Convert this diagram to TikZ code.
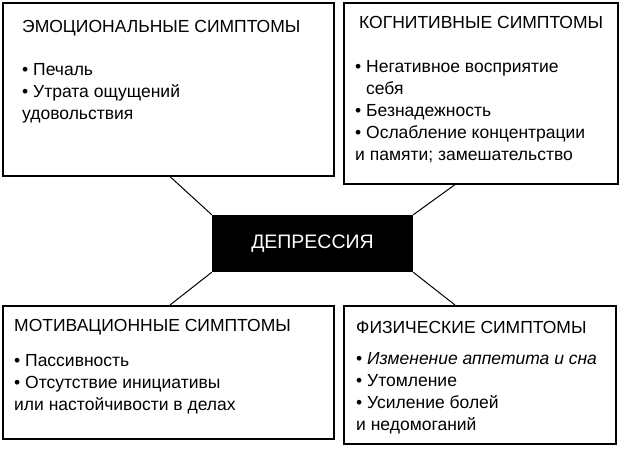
\documentclass[tikz,border=0pt]{standalone}
\usepackage{fontspec}
\setmainfont{Liberation Sans}
\usetikzlibrary{positioning}

\tikzset{
    symbox/.style={draw, line width=1.6pt, anchor=north west, inner sep=0pt},
    title/.style={anchor=west, inner sep=0pt, font=\fontsize{17.5}{21}\selectfont},
    items/.style={anchor=north west, align=left, inner sep=0pt,
        font=\fontsize{17.5}{22}\selectfont},
    centre/.style={fill=black, text=white, minimum width=201pt, minimum height=57pt,
        font=\fontsize{19.5}{22}\selectfont}
}

\begin{document}
\begin{tikzpicture}[x=1pt, y=-1pt]
\useasboundingbox (0,0) rectangle (620,448);
% boxes
\node[symbox, minimum width=331pt, minimum height=173pt] (emo) at (2,2) {};
\node[symbox, minimum width=274pt, minimum height=181pt] (cog) at (343,2) {};
\node[symbox, minimum width=331pt, minimum height=133pt] (mot) at (2,305) {};
\node[symbox, minimum width=272pt, minimum height=138pt] (phy) at (343,305) {};
\node[centre] (dep) at (312.5,243.5) {ДЕПРЕССИЯ};
% headings
\node[title] (emot) at (22,28) {ЭМОЦИОНАЛЬНЫЕ СИМПТОМЫ};
\node[title] (cogt) at (359,22) {КОГНИТИВНЫЕ СИМПТОМЫ};
\node[title] (mott) at (14,327) {МОТИВАЦИОННЫЕ СИМПТОМЫ};
\node[title] (phyt) at (356,327) {ФИЗИЧЕСКИЕ СИМПТОМЫ};
% lists
\node[items] (emol) at (22,63)
    {• Печаль\\• Утрата ощущений\\удовольствия};
\node[items] (cogl) at (355,60)
    {• Негативное восприятие\\\phantom{• }себя\\• Безнадежность\\• Ослабление концентрации\\и памяти; замешательство};
\node[items] (motl) at (14,354)
    {• Пассивность\\• Отсутствие инициативы\\или настойчивости в делах};
\node[items] (phyl) at (356,352)
    {• \textit{Изменение аппетита и сна}\\• Утомление\\• Усиление болей\\и недомоганий};
% connectors
\draw[line width=1pt] (dep.north west) -- (emo.south -| 170,0);
\draw[line width=1pt] (dep.north east) -- (cog.south -| 455,0);
\draw[line width=1pt] (dep.south west) -- (mot.north -| 170,0);
\draw[line width=1pt] (dep.south east) -- (phy.north -| 455,0);
\end{tikzpicture}
\end{document}
